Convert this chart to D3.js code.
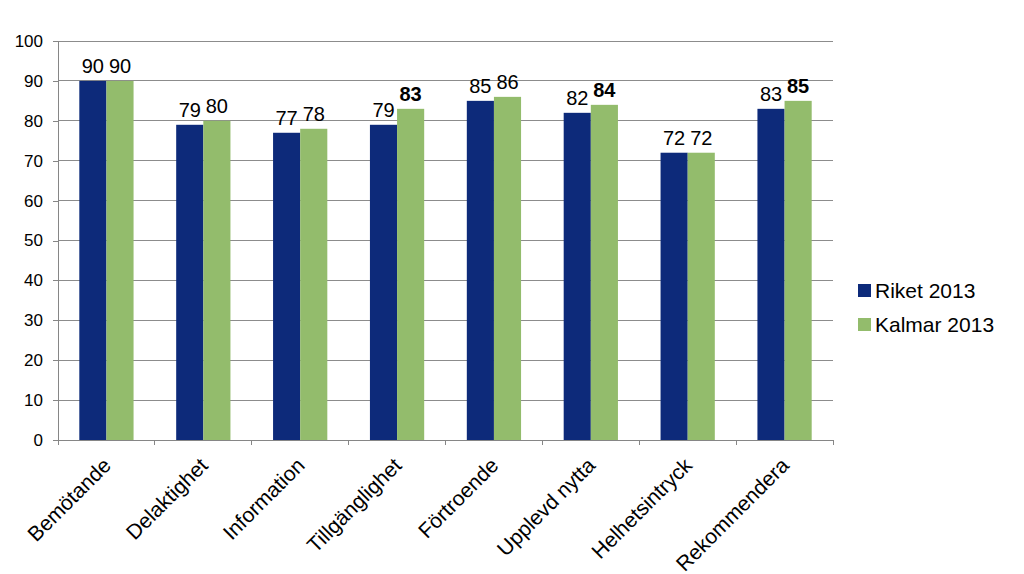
<!DOCTYPE html>
<html><head><meta charset="utf-8">
<script src="https://cdn.jsdelivr.net/npm/d3@7"></script>
<style>body{margin:0;background:#fff;}svg{font-family:"Liberation Sans",Arial,sans-serif;}</style>
</head><body><svg id="c" width="1024" height="574"></svg>
<script>
const categories=["Bemötande","Delaktighet","Information","Tillgänglighet","Förtroende","Upplevd nytta","Helhetsintryck","Rekommendera"];
const riket=[90,79,77,79,85,82,72,83];
const kalmar=[90,80,78,83,86,84,72,85];
const kalmarBold=[false,false,false,true,false,true,false,true];
const seriesNames=["Riket 2013","Kalmar 2013"];
const colors=["#0d2a7a","#93bc6c"];
const yTicks=[0,10,20,30,40,50,60,70,80,90,100];

const svg=d3.select("#c");
const L=58,R=833,T=41,B=440;
const x=d3.scaleBand().domain(categories).range([L,R]).paddingInner(0.44).paddingOuter(0.22);
const xs=d3.scaleBand().domain([0,1]).range([0,x.bandwidth()]);
const y=d3.scaleLinear().domain([0,100]).range([B,T]);

// gridlines
svg.append("g").selectAll("line").data(yTicks.filter(d=>d>0)).join("line")
 .attr("x1",L).attr("x2",R).attr("y1",d=>y(d)).attr("y2",d=>y(d))
 .attr("stroke","#8c8c8c").attr("stroke-width",1).attr("shape-rendering","crispEdges");

// y axis
const ya=svg.append("g").attr("transform",`translate(${L},0)`)
 .call(d3.axisLeft(y).tickValues(yTicks).tickSize(5).tickPadding(10));
ya.select(".domain").attr("stroke","#868686").attr("shape-rendering","crispEdges");
ya.selectAll(".tick line").attr("stroke","#868686").attr("shape-rendering","crispEdges");
ya.selectAll("text").attr("font-size",17).attr("fill","#000").attr("font-family","Liberation Sans, Arial, sans-serif");

// bars
const data=categories.map((c,i)=>({c,v:[riket[i],kalmar[i]],b:kalmarBold[i]}));
const g=svg.append("g");
data.forEach(d=>{
 d.v.forEach((v,j)=>{
  g.append("rect").attr("x",x(d.c)+xs(j)).attr("width",xs.bandwidth())
   .attr("y",y(v)).attr("height",y(0)-y(v)).attr("fill",colors[j]);
  g.append("text").attr("x",x(d.c)+xs(j)+xs.bandwidth()/2).attr("y",y(v)-8)
   .attr("text-anchor","middle").attr("font-size",20)
   .attr("font-weight",(j===1&&d.b)?"bold":"normal").text(v);
 });
});

// x axis
const xa=svg.append("g").attr("transform",`translate(0,${B})`);
xa.append("line").attr("x1",L).attr("x2",R).attr("y1",0).attr("y2",0).attr("stroke","#868686").attr("shape-rendering","crispEdges");
const step=(R-L)/categories.length;
xa.selectAll("line.tk").data(d3.range(categories.length+1)).join("line").attr("class","tk")
 .attr("x1",i=>L+i*step).attr("x2",i=>L+i*step).attr("y1",0).attr("y2",5)
 .attr("stroke","#868686").attr("shape-rendering","crispEdges");
xa.selectAll("text").data(categories).join("text")
 .attr("transform",d=>`translate(${x(d)+x.bandwidth()/2-5},16) rotate(-45)`)
 .attr("text-anchor","end").attr("dominant-baseline","hanging").attr("font-size",21).text(d=>d);

// legend
const lg=svg.append("g");
seriesNames.forEach((n,i)=>{
 lg.append("rect").attr("x",858).attr("y",284+i*34).attr("width",13).attr("height",13).attr("fill",colors[i]);
 lg.append("text").attr("x",875).attr("y",298+i*34).attr("font-size",21).text(n);
});
</script></body></html>
